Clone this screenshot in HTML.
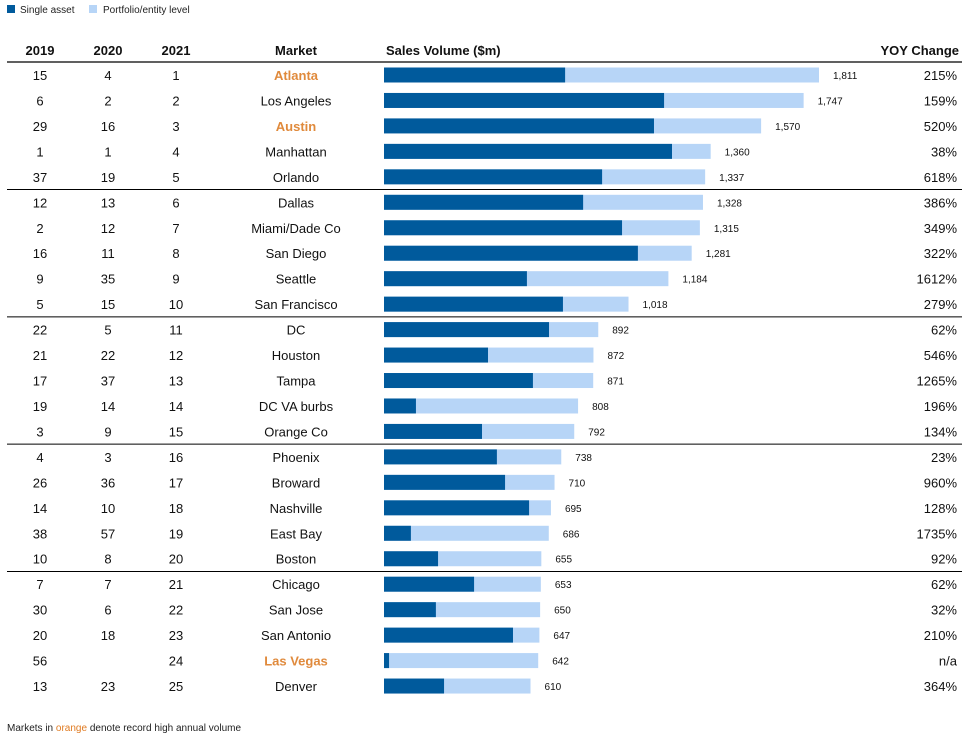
<!DOCTYPE html>
<html><head><meta charset="utf-8"><style>
body{margin:0;background:#fff;font-family:"Liberation Sans",Arial,sans-serif;}
#c{position:relative;width:969px;height:737px;overflow:hidden}
</style></head><body>
<div id="c">
<svg id="s" width="969" height="737" xmlns="http://www.w3.org/2000/svg" font-family="Liberation Sans, Arial, sans-serif">
<g>
<rect x="7" y="5" width="8" height="8" fill="#005a9c"/>
<text x="20" y="13" font-size="10" fill="#222">Single asset</text>
<rect x="89" y="5" width="8" height="8" fill="#b7d5f7"/>
<text x="103" y="13" font-size="10" fill="#222">Portfolio/entity level</text>
</g>
<g font-size="13" font-weight="bold" fill="#111">
<text x="40" y="55" text-anchor="middle">2019</text>
<text x="108" y="55" text-anchor="middle">2020</text>
<text x="176" y="55" text-anchor="middle">2021</text>
<text x="296" y="55" text-anchor="middle">Market</text>
<text x="386" y="55">Sales Volume ($m)</text>
<text x="959" y="55" text-anchor="end">YOY Change</text>
</g>
<line x1="7" x2="962" y1="62" y2="62" stroke="#000" stroke-width="1.3"/>
<g id="rows"></g>
<text x="7" y="731" font-size="10" fill="#222">Markets in <tspan fill="#e07b22">orange</tspan> denote record high annual volume</text>
</svg>
</div>
<script>
const markets=["Atlanta","Los Angeles","Austin","Manhattan","Orlando","Dallas","Miami/Dade Co","San Diego","Seattle","San Francisco","DC","Houston","Tampa","DC VA burbs","Orange Co","Phoenix","Broward","Nashville","East Bay","Boston","Chicago","San Jose","San Antonio","Las Vegas","Denver"];
const rank2019=["15","6","29","1","37","12","2","16","9","5","22","21","17","19","3","4","26","14","38","10","7","30","20","56","13"];
const rank2020=["4","2","16","1","19","13","12","11","35","15","5","22","37","14","9","3","36","10","57","8","7","6","18","","23"];
const totals=[1811,1747,1570,1360,1337,1328,1315,1281,1184,1018,892,872,871,808,792,738,710,695,686,655,653,650,647,642,610];
const single=[754,1166,1124,1199,908,829,991,1057,595,745,687,433,620,133,408,470,504,604,112,225,375,216,537,21,250];
const yoy=["215%","159%","520%","38%","618%","386%","349%","322%","1612%","279%","62%","546%","1265%","196%","134%","23%","960%","128%","1735%","92%","62%","32%","210%","n/a","364%"];
const record=["Atlanta","Austin","Las Vegas"];
const NS="http://www.w3.org/2000/svg";
const g=document.getElementById('rows');
const x0=384, scale=435/1811;
const xs=v=>x0+v*scale;
const yc=i=>75+i*25.46;
function mk(tag,attrs,txt){const e=document.createElementNS(NS,tag);for(const k in attrs)e.setAttribute(k,attrs[k]);if(txt!==undefined)e.textContent=txt;g.appendChild(e);return e;}
markets.forEach((m,i)=>{
  const y=yc(i);
  let e;
  e=mk('text',{x:40,y:y+5,'font-size':13,'text-anchor':'middle',fill:'#111'},rank2019[i]);
  
  
  e=mk('text',{x:108,y:y+5,'font-size':13,'text-anchor':'middle',fill:'#111'},rank2020[i]);
  
  
  e=mk('text',{x:176,y:y+5,'font-size':13,'text-anchor':'middle',fill:'#111'},String(i+1));
  
  
  const rec=record.includes(m);
  e=mk('text',{x:296,y:y+5,'font-size':13,'text-anchor':'middle',fill:rec?'#e08a3c':'#111','font-weight':rec?'bold':'normal'},m);
  
  
  e=mk('rect',{x:x0,y:y-7.5,width:xs(totals[i])-x0,height:15,fill:'#b7d5f7'});
  
  
  e=mk('rect',{x:x0,y:y-7.5,width:xs(single[i])-x0,height:15,fill:'#005a9c'});
  
  
  e=mk('text',{x:xs(totals[i])+14,y:y+4,'font-size':10,fill:'#111'},totals[i].toLocaleString('en-US'));
  
  
  e=mk('text',{x:957,y:y+5,'font-size':13,'text-anchor':'end',fill:'#111'},yoy[i]);
  
  
  if(i%5===4 && i<24){
    e=mk('line',{x1:7,x2:962,y1:y+12.7,y2:y+12.7,stroke:'#000','stroke-width':1});
    
    
  }
});
</script>
</body></html>
